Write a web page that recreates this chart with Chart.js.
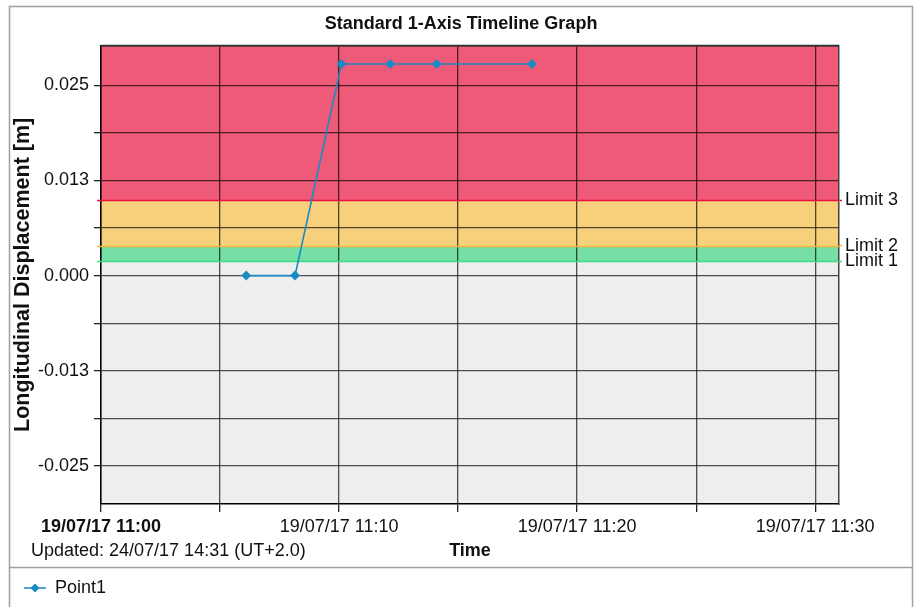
<!DOCTYPE html>
<html>
<head>
<meta charset="utf-8">
<script src="https://cdn.jsdelivr.net/npm/chart.js@4.4.1/dist/chart.umd.min.js"></script>
<style>
  body { margin: 0; background: #fff; }
  canvas { display: block; }
</style>
</head>
<body>
<canvas id="timelineChart" width="917" height="607"></canvas>
<script>
// data (x = minutes after 19/07/17 11:00)
const timeMinutes = [6.1, 8.15, 10.1, 12.15, 14.1, 18.1];
const displacement = [0, 0, 0.0278, 0.0278, 0.0278, 0.0278];
const timeLabels = ['19/07/17 11:00', '19/07/17 11:10', '19/07/17 11:20', '19/07/17 11:30'];
const displacementLabels = ['-0.025', '-0.013', '0.000', '0.013', '0.025'];
const limitValues = [0.0019, 0.0039, 0.0099];
const limitNames = ['Limit 1', 'Limit 2', 'Limit 3'];
const seriesName = 'Point1';
const updatedText = 'Updated: 24/07/17 14:31 (UT+2.0)';

// styles
const bandColors = ['#eeeeee', '#76dfa6', '#f7d07c', '#ee5a78']; // bottom to top
const limitColors = ['#3ddc84', '#f3b63a', '#e8123c'];
const lineColor = '#1a8ac4';
const gridColor = 'rgba(0,0,0,0.68)';
const fontFamily = "'Liberation Sans', Arial, sans-serif";

Chart.defaults.font.family = fontFamily;
Chart.defaults.font.size = 18;
Chart.defaults.color = '#111';

// legend marker: a short line with a diamond on it
const legendMarker = document.createElement('canvas');
legendMarker.width = 24;
legendMarker.height = 12;
(function() {
    var c = legendMarker.getContext('2d');
    c.strokeStyle = lineColor;
    c.fillStyle = lineColor;
    c.lineWidth = 1.5;
    c.beginPath();
    c.moveTo(1, 6);
    c.lineTo(23, 6);
    c.stroke();
    c.beginPath();
    c.moveTo(12, 1.5);
    c.lineTo(16.5, 6);
    c.lineTo(12, 10.5);
    c.lineTo(7.5, 6);
    c.closePath();
    c.fill();
})();

function isMultiple(v, step) {
    return Math.abs(v / step - Math.round(v / step)) < 1e-6;
}

const bandsPlugin = {
    id: 'bands',
    beforeDraw(chart) {
        const {ctx, chartArea: a, scales: {y}} = chart;
        ctx.save();
        ctx.fillStyle = '#fff';
        ctx.fillRect(0, 0, chart.width, chart.height);

        // coloured zones between the limits
        const edges = [y.min].concat(limitValues, [y.max]);
        for (let i = 0; i < bandColors.length; i++) {
            const top = y.getPixelForValue(edges[i + 1]);
            const bottom = y.getPixelForValue(edges[i]);
            ctx.fillStyle = bandColors[i];
            ctx.fillRect(a.left, top, a.right - a.left, bottom - top);
        }

        // outer frame and legend separator
        ctx.strokeStyle = '#a0a0a0';
        ctx.lineWidth = 1.5;
        ctx.strokeRect(9.5, 6.5, 903, 700);
        ctx.beginPath();
        ctx.moveTo(9.5, 567.5);
        ctx.lineTo(912.5, 567.5);
        ctx.stroke();
        ctx.restore();
    },
    beforeDatasetsDraw(chart) {
        const {ctx, chartArea: a, scales: {x, y}} = chart;
        ctx.save();
        ctx.lineWidth = 1.5;
        limitValues.forEach((v, i) => {
            const py = Math.round(y.getPixelForValue(v)) + 0.5;
            ctx.strokeStyle = limitColors[i];
            ctx.beginPath();
            ctx.moveTo(a.left - 4, py);
            ctx.lineTo(a.right, py);
            ctx.stroke();
        });
        ctx.strokeStyle = '#333';
        ctx.lineWidth = 2;
        ctx.beginPath();
        ctx.moveTo(a.left, a.top);
        ctx.lineTo(a.right, a.top);
        ctx.stroke();

        ctx.fillStyle = '#111';
        ctx.font = '18px ' + fontFamily;
        ctx.textBaseline = 'middle';
        ctx.textAlign = 'left';
        ctx.fillText(updatedText, 31, x.bottom - 9);
        ctx.restore();
    }
};

var ctx = document.getElementById('timelineChart').getContext('2d');
new Chart(ctx, {
    type: 'line',
    data: {
        datasets: [{
            label: seriesName,
            data: timeMinutes.map((t, i) => ({x: t, y: displacement[i]})),
            borderColor: lineColor,
            backgroundColor: lineColor,
            borderWidth: 1.6,
            pointStyle: 'rectRot',
            pointRadius: 5,
            pointHoverRadius: 5,
            pointBorderWidth: 0,
            pointBackgroundColor: lineColor,
            fill: false,
            tension: 0
        }]
    },
    options: {
        responsive: false,
        animation: false,
        devicePixelRatio: 1,
        layout: {
            padding: {left: 5, right: 0, top: 0, bottom: 0}
        },
        plugins: {
            title: {
                display: true,
                text: 'Standard 1-Axis Timeline Graph',
                color: '#111',
                font: {size: 18, weight: 'bold'},
                padding: {top: 13, bottom: 11.1}
            },
            legend: {
                position: 'bottom',
                align: 'start',
                labels: {
                    usePointStyle: true,
                    pointStyle: legendMarker,
                    pointStyleWidth: 22,
                    boxHeight: 12,
                    padding: 19,
                    color: '#111',
                    font: {size: 18}
                }
            },
            tooltip: {enabled: false}
        },
        scales: {
            x: {
                type: 'linear',
                min: 0,
                max: 31,
                afterFit: scale => { scale.height = 56; },
                ticks: {
                    stepSize: 5,
                    includeBounds: false,
                    autoSkip: false,
                    maxRotation: 0,
                    minRotation: 0,
                    padding: 4.5,
                    color: '#111',
                    font: c => ({size: 18, weight: c.tick && c.tick.value === 0 ? 'bold' : 'normal'}),
                    callback: v => isMultiple(v, 10) ? timeLabels[Math.round(v / 10)] : ''
                },
                grid: {
                    color: gridColor,
                    lineWidth: 1.3,
                    tickColor: '#222',
                    tickWidth: 1.3,
                    tickLength: 8
                },
                border: {color: '#000', width: 1.5},
                title: {
                    display: true,
                    text: 'Time',
                    color: '#111',
                    font: {size: 18, weight: 'bold', lineHeight: 1},
                    padding: {top: 0, bottom: 0}
                }
            },
            y: {
                min: -0.03,
                max: 0.0302,
                afterFit: scale => { scale.width = 96; },
                ticks: {
                    stepSize: 0.00625,
                    includeBounds: false,
                    autoSkip: false,
                    padding: 5,
                    color: '#111',
                    callback: v => isMultiple(v, 0.0125) ? displacementLabels[Math.round(v / 0.0125) + 2] : ''
                },
                grid: {
                    color: gridColor,
                    lineWidth: 1.3,
                    tickColor: '#222',
                    tickWidth: 1.3,
                    tickLength: 7
                },
                border: {color: '#000', width: 1.5},
                title: {
                    display: true,
                    text: 'Longitudinal Displacement [m]',
                    color: '#111',
                    font: {size: 21.5, weight: 'bold', lineHeight: 1},
                    padding: {top: 7, bottom: 0}
                }
            },
            limits: {
                position: 'right',
                min: -0.03,
                max: 0.0302,
                afterFit: scale => { scale.width = 78; },
                afterBuildTicks: scale => {
                    scale.ticks = limitValues.map(v => ({value: v}));
                },
                ticks: {
                    autoSkip: false,
                    padding: 3,
                    color: '#111',
                    font: {size: 18},
                    callback: (v, i) => limitNames[i]
                },
                grid: {
                    drawOnChartArea: false,
                    tickLength: 3,
                    tickWidth: 1.5,
                    tickColor: c => limitColors[c.index]
                },
                border: {color: '#444', width: 1.5}
            }
        }
    },
    plugins: [bandsPlugin]
});
</script>
</body>
</html>
